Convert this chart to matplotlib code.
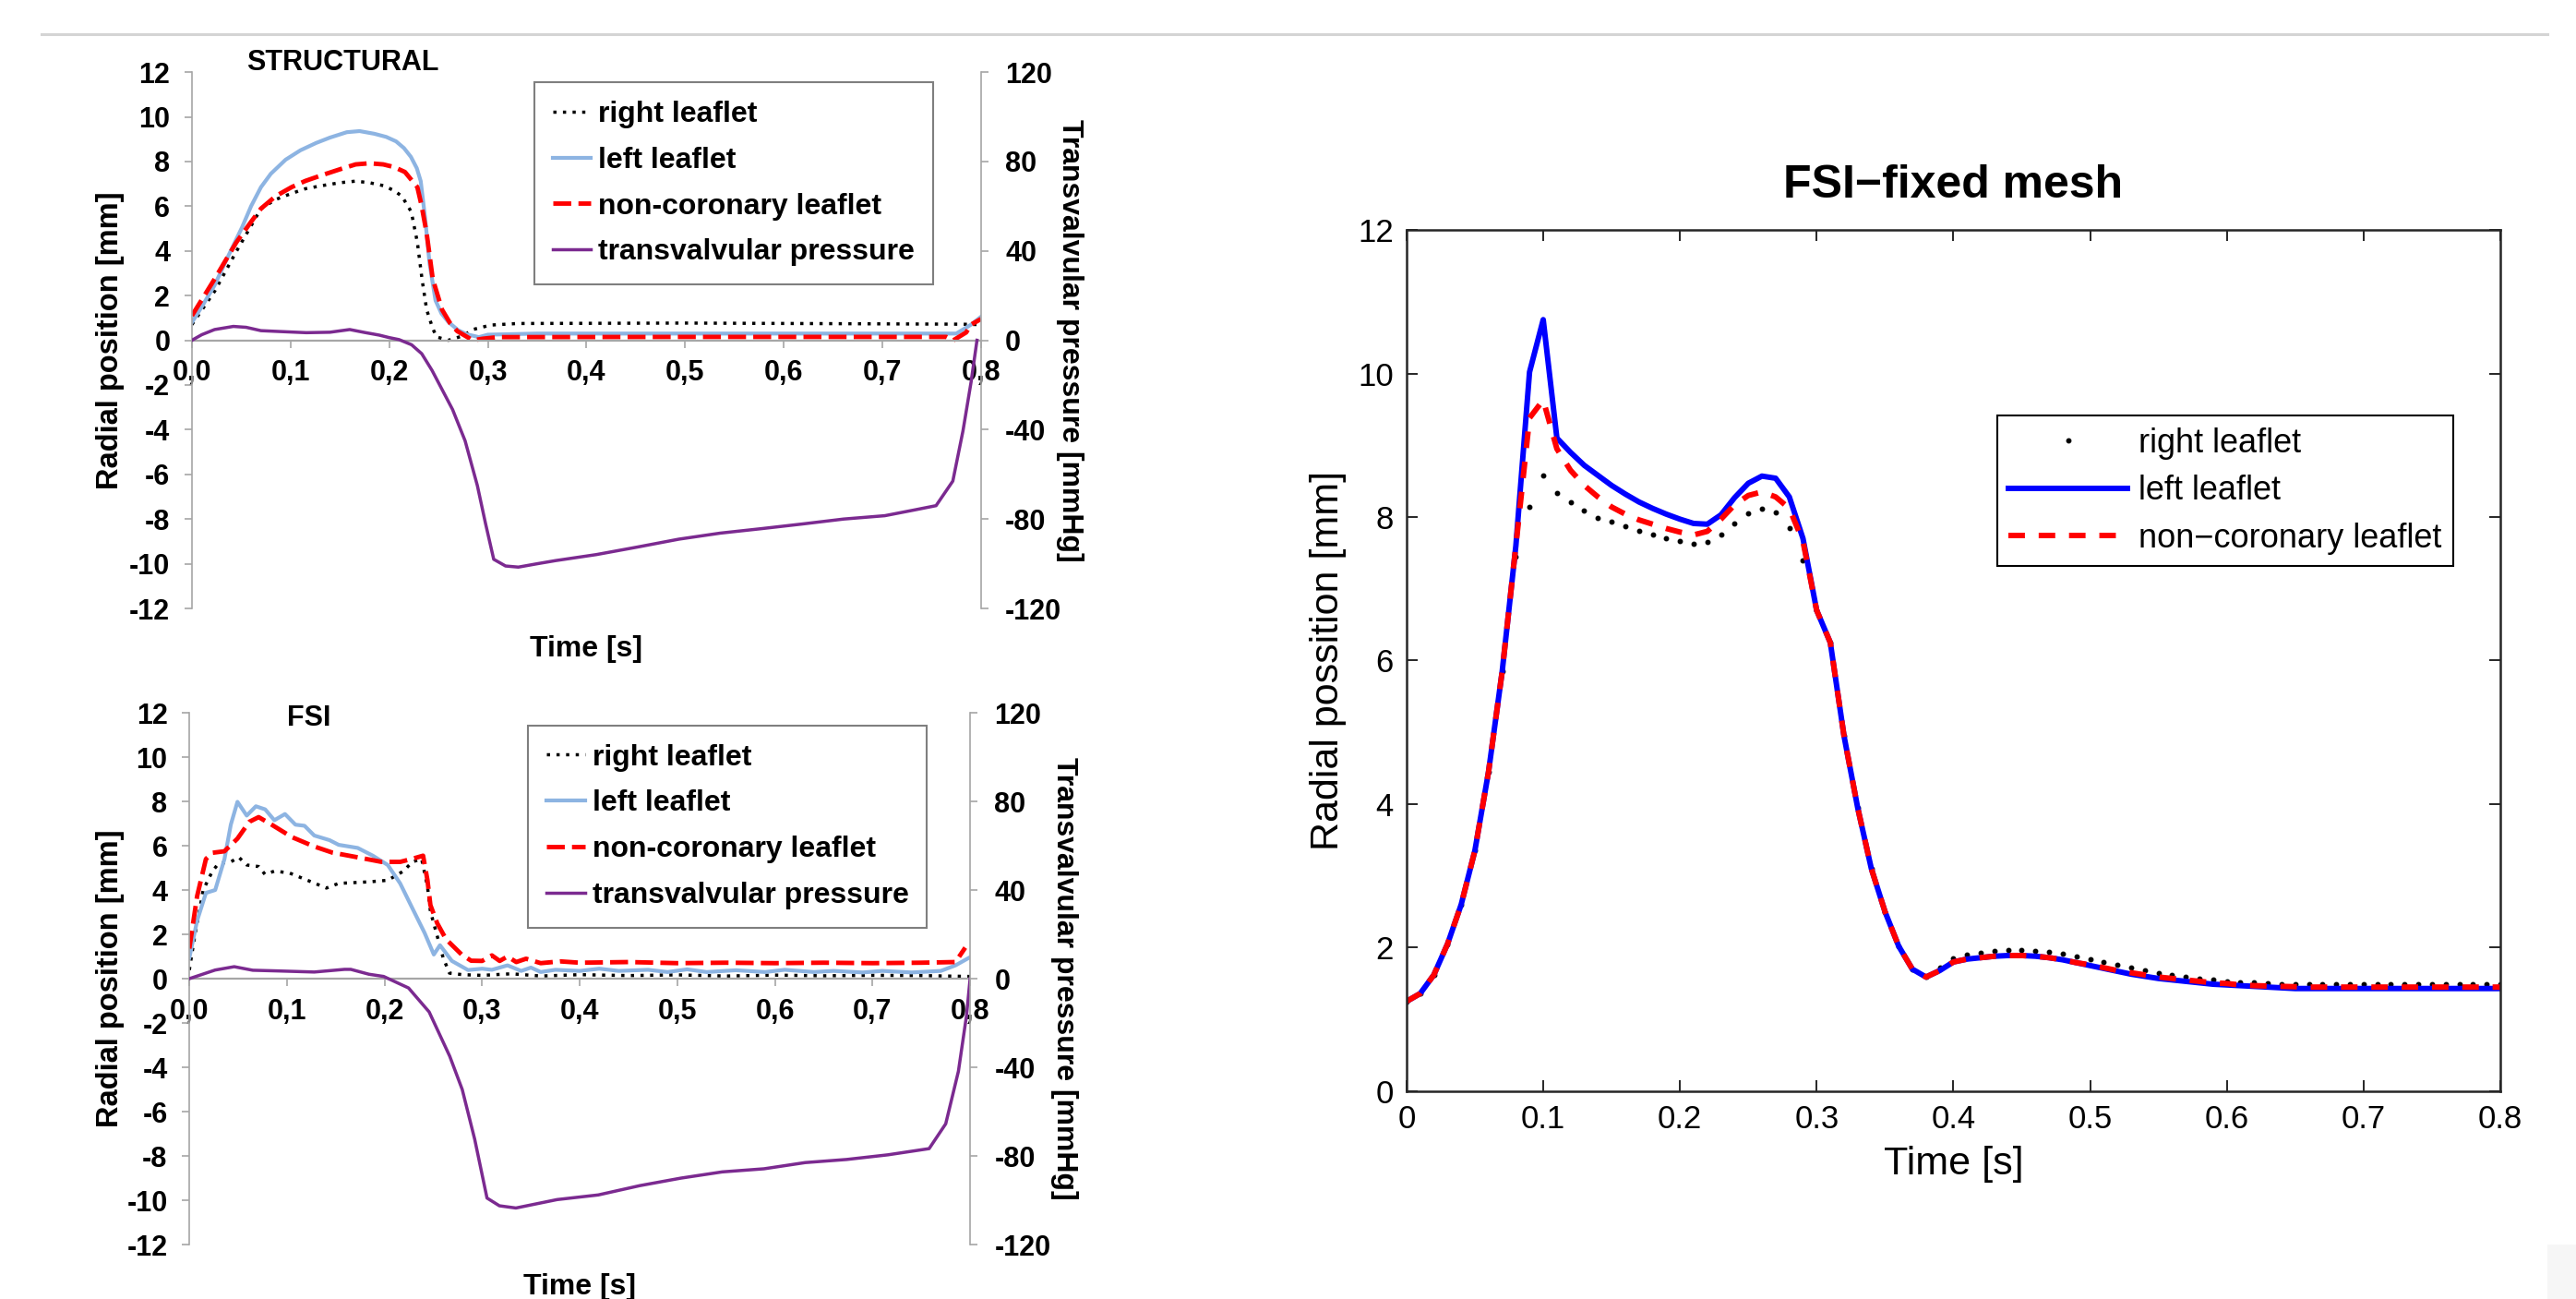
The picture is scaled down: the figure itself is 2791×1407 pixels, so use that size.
import matplotlib
matplotlib.use('Agg')
import matplotlib.pyplot as plt
from matplotlib.patches import Rectangle
from matplotlib.lines import Line2D

plt.rcParams['font.family'] = ['Liberation Sans', 'DejaVu Sans']
plt.rcParams['axes.unicode_minus'] = False

# ---------------- STRUCTURAL (top left) ----------------
s_right_t = [0, 0.023, 0.045, 0.07, 0.085, 0.101, 0.115, 0.132, 0.15, 0.166, 0.18, 0.194, 0.205, 0.213,
             0.2224, 0.2286, 0.2333, 0.238, 0.244, 0.248, 0.26, 0.275, 0.2847, 0.303, 0.33, 0.5, 0.78, 0.8]
s_right_y = [0.7, 2.19, 3.97, 5.89, 6.3, 6.57, 6.78, 6.92, 7.05, 7.12, 7.05, 6.92, 6.7, 6.44,
             5.75, 4.38, 2.74, 1.37, 0.55, 0.15, 0.0, 0.2, 0.48, 0.68, 0.75, 0.77, 0.72, 0.7]

s_left_t = [0, 0.01, 0.023, 0.035, 0.051, 0.06, 0.07, 0.08, 0.095, 0.11, 0.126, 0.14, 0.157, 0.17, 0.185,
            0.197, 0.207, 0.215, 0.222, 0.228, 0.232, 0.2364, 0.241, 0.247, 0.253, 0.26, 0.27, 0.2785,
            0.291, 0.3, 0.35, 0.45, 0.55, 0.65, 0.75, 0.775, 0.79, 0.8]
s_left_y = [0.8, 1.5, 2.46, 3.6, 5.07, 6.0, 6.85, 7.45, 8.08, 8.5, 8.83, 9.07, 9.31, 9.36, 9.24,
            9.1, 8.9, 8.6, 8.21, 7.7, 7.12, 5.48, 3.42, 1.78, 1.2, 0.82, 0.45, 0.27,
            0.14, 0.25, 0.3, 0.3, 0.3, 0.3, 0.3, 0.3, 0.7, 1.05]

s_nc_t = [0, 0.023, 0.045, 0.06, 0.07, 0.085, 0.101, 0.115, 0.132, 0.15, 0.166, 0.18, 0.194, 0.205, 0.216,
          0.2286, 0.233, 0.238, 0.2442, 0.2536, 0.262, 0.269, 0.2847, 0.295, 0.31, 0.5, 0.765, 0.772,
          0.785, 0.79, 0.8]
s_nc_y = [1.1, 2.74, 4.38, 5.3, 5.89, 6.45, 6.85, 7.13, 7.39, 7.65, 7.87, 7.92, 7.87, 7.75, 7.53,
          6.85, 6.0, 4.79, 2.74, 1.37, 0.75, 0.41, 0.0, 0.07, 0.14, 0.15, 0.15, 0.0,
          0.35, 0.7, 0.95]

s_p_t = [0, 0.01, 0.023, 0.042, 0.055, 0.07, 0.09, 0.116, 0.14, 0.16, 0.175, 0.19, 0.2, 0.21, 0.2227,
         0.233, 0.2435, 0.2643, 0.277, 0.2894, 0.2977, 0.306, 0.318, 0.331, 0.35, 0.3686, 0.41, 0.452,
         0.4937, 0.5356, 0.5773, 0.619, 0.6607, 0.7025, 0.7317, 0.7545, 0.7715, 0.7818, 0.79, 0.796]
s_p_v = [0, 2.5, 4.8, 6.2, 5.8, 4.3, 3.9, 3.4, 3.6, 4.8, 3.5, 2.3, 1.2, 0.3, -2,
         -6, -13.5, -31, -45, -65, -82, -98, -101, -101.5, -100, -98.6, -95.9, -92.5,
         -89, -86.3, -84.3, -82.2, -80, -78.5, -76, -74, -63, -40.5, -18.7, 0]

# ---------------- FSI (bottom left) ----------------
f_right_t = [0, 0.005, 0.0142, 0.0236, 0.03, 0.0425, 0.0507, 0.0588, 0.071, 0.0775, 0.087, 0.102, 0.121,
             0.1405, 0.153, 0.1843, 0.2033, 0.2193, 0.2285, 0.238, 0.244, 0.247, 0.254, 0.26, 0.2665,
             0.28, 0.3, 0.33, 0.36, 0.4, 0.45, 0.5, 0.55, 0.6, 0.65, 0.7, 0.75, 0.8]
f_right_y = [0.39, 1.78, 4.0, 4.85, 5.2, 5.27, 5.48, 5.13, 5.06, 4.71, 4.85, 4.78, 4.44,
             4.09, 4.3, 4.37, 4.44, 4.85, 5.27, 5.41, 4.16, 3.04, 1.92, 0.95, 0.25,
             0.18, 0.15, 0.22, 0.12, 0.18, 0.14, 0.17, 0.12, 0.16, 0.13, 0.15, 0.14, 0.1]

f_left_t = [0, 0.008, 0.017, 0.0265, 0.036, 0.0425, 0.0493, 0.0588, 0.0682, 0.0777, 0.0871, 0.098,
            0.1087, 0.118, 0.128, 0.1437, 0.153, 0.1725, 0.188, 0.2033, 0.216, 0.2285, 0.2411, 0.2505,
            0.2568, 0.269, 0.2855, 0.3, 0.31, 0.326, 0.34, 0.35, 0.36, 0.375, 0.4, 0.42, 0.44, 0.47,
            0.49, 0.51, 0.53, 0.56, 0.59, 0.61, 0.64, 0.66, 0.69, 0.71, 0.74, 0.77, 0.785, 0.8]
f_left_y = [0.94, 2.62, 3.87, 4.0, 5.4, 6.95, 7.98, 7.36, 7.78, 7.64, 7.15, 7.43,
            6.95, 6.9, 6.46, 6.25, 6.04, 5.9, 5.55, 5.13, 4.3, 3.18, 2.06, 1.09,
            1.51, 0.8, 0.39, 0.45, 0.4, 0.6, 0.35, 0.5, 0.3, 0.4, 0.35, 0.45, 0.35, 0.4,
            0.3, 0.42, 0.3, 0.38, 0.3, 0.4, 0.3, 0.35, 0.28, 0.35, 0.28, 0.35, 0.6, 0.97]

f_nc_t = [0, 0.008, 0.017, 0.0236, 0.036, 0.0493, 0.0615, 0.071, 0.0836, 0.105, 0.1276, 0.1465, 0.172,
          0.197, 0.216, 0.2285, 0.2395, 0.244, 0.247, 0.254, 0.263, 0.279, 0.2887, 0.3, 0.31, 0.318,
          0.326, 0.335, 0.345, 0.36, 0.38, 0.4, 0.45, 0.5, 0.55, 0.6, 0.65, 0.7, 0.75, 0.785, 0.795]
f_nc_y = [1.36, 3.73, 5.4, 5.68, 5.75, 6.32, 7.08, 7.29, 6.97, 6.39, 5.97, 5.69, 5.48,
          5.27, 5.27, 5.41, 5.55, 4.44, 3.32, 2.5, 1.78, 1.09, 0.81, 0.8, 1.05, 0.8,
          1.0, 0.75, 0.9, 0.7, 0.78, 0.72, 0.75, 0.7, 0.72, 0.7, 0.72, 0.7, 0.72, 0.75, 1.4]

f_p_t = [0, 0.0265, 0.046, 0.065, 0.09, 0.128, 0.159, 0.1654, 0.184, 0.1991, 0.2246, 0.2457, 0.2668,
         0.2796, 0.2924, 0.305, 0.3177, 0.3346, 0.3768, 0.419, 0.4616, 0.5038, 0.546, 0.5888, 0.631,
         0.6734, 0.7157, 0.758, 0.775, 0.788, 0.7963, 0.8]
f_p_v = [0, 3.9, 5.4, 3.8, 3.5, 3.0, 4.2, 4.2, 2.0, 1.0, -4.2, -15, -35,
         -50, -72.5, -99, -102.5, -103.5, -99.7, -97.6, -93.4, -90, -87.2, -85.8, -83,
         -81.6, -79.5, -76.7, -65.5, -41.8, -16.7, 0]

# ---------------- FSI fixed mesh (right) ----------------
fx_t = [0.00, 0.01, 0.02, 0.03, 0.04, 0.05, 0.06, 0.07, 0.08, 0.09,
        0.10, 0.11, 0.12, 0.13, 0.14, 0.15, 0.16, 0.17, 0.18, 0.19,
        0.20, 0.21, 0.22, 0.23, 0.24, 0.25, 0.26, 0.27, 0.28, 0.29,
        0.30, 0.31, 0.32, 0.33, 0.34, 0.35, 0.36, 0.37, 0.38, 0.39,
        0.40, 0.41, 0.42, 0.43, 0.44, 0.45, 0.46, 0.47, 0.48, 0.49,
        0.50, 0.51, 0.52, 0.53, 0.54, 0.55, 0.56, 0.57, 0.58, 0.59,
        0.60, 0.61, 0.62, 0.63, 0.64, 0.65, 0.66, 0.67, 0.68, 0.69,
        0.70, 0.71, 0.72, 0.73, 0.74, 0.75, 0.76, 0.77, 0.78, 0.79, 0.80]
fx_left = [1.25, 1.36, 1.62, 2.05, 2.60, 3.35, 4.45, 5.85, 7.60, 10.02,
           10.75, 9.10, 8.90, 8.72, 8.58, 8.44, 8.32, 8.21, 8.12, 8.04,
           7.97, 7.91, 7.90, 8.03, 8.27, 8.47, 8.57, 8.54, 8.28, 7.70,
           6.70, 6.25, 4.95, 3.95, 3.10, 2.50, 2.02, 1.70, 1.59, 1.68,
           1.80, 1.84, 1.86, 1.88, 1.89, 1.89, 1.88, 1.86, 1.83, 1.79,
           1.75, 1.71, 1.67, 1.63, 1.60, 1.57, 1.55, 1.53, 1.51, 1.49,
           1.48, 1.47, 1.46, 1.45, 1.44, 1.43, 1.43, 1.43, 1.43, 1.43,
           1.43, 1.43, 1.43, 1.43, 1.43, 1.43, 1.43, 1.43, 1.43, 1.43, 1.43]
fx_nc = [1.25, 1.36, 1.62, 2.05, 2.60, 3.35, 4.45, 5.85, 7.60, 9.38,
         9.63, 8.95, 8.65, 8.44, 8.28, 8.14, 8.04, 7.96, 7.90, 7.84,
         7.79, 7.75, 7.80, 7.97, 8.17, 8.30, 8.35, 8.28, 8.12, 7.66,
         6.70, 6.25, 4.95, 3.95, 3.10, 2.50, 2.02, 1.70, 1.59, 1.68,
         1.80, 1.84, 1.86, 1.88, 1.89, 1.89, 1.88, 1.86, 1.83, 1.79,
         1.76, 1.72, 1.68, 1.65, 1.62, 1.59, 1.57, 1.55, 1.53, 1.51,
         1.50, 1.48, 1.47, 1.465, 1.46, 1.455, 1.45, 1.45, 1.45, 1.45,
         1.45, 1.45, 1.45, 1.45, 1.45, 1.45, 1.45, 1.45, 1.45, 1.45, 1.45]
fx_right = [1.25, 1.36, 1.62, 2.05, 2.60, 3.35, 4.45, 5.85, 7.45, 8.14,
            8.58, 8.34, 8.21, 8.09, 7.99, 7.93, 7.87, 7.81, 7.76, 7.70,
            7.66, 7.63, 7.65, 7.76, 7.91, 8.05, 8.12, 8.06, 7.84, 7.39,
            6.70, 6.25, 4.95, 3.95, 3.10, 2.50, 2.02, 1.70, 1.60, 1.72,
            1.85, 1.90, 1.93, 1.96, 1.97, 1.97, 1.96, 1.94, 1.91, 1.88,
            1.84, 1.80, 1.76, 1.72, 1.68, 1.65, 1.62, 1.60, 1.57, 1.55,
            1.53, 1.52, 1.51, 1.50, 1.49, 1.49, 1.49, 1.49, 1.49, 1.49,
            1.49, 1.49, 1.49, 1.49, 1.49, 1.49, 1.49, 1.49, 1.49, 1.49, 1.49]

xt_comma = [0, 0.1, 0.2, 0.3, 0.4, 0.5, 0.6, 0.7, 0.8]
xt_comma_lbl = ['0,0', '0,1', '0,2', '0,3', '0,4', '0,5', '0,6', '0,7', '0,8']
yt_mm = [-12, -10, -8, -6, -4, -2, 0, 2, 4, 6, 8, 10, 12]
yt_mm_lbl = ['-12', '-10', '-8', '-6', '-4', '-2', '0', '2', '4', '6', '8', '10', '12']
yt_p = [-120, -80, -40, 0, 40, 80, 120]
yt_p_lbl = ['-120', '-80', '-40', '0', '40', '80', '120']

labels4 = ['right leaflet', 'left leaflet', 'non-coronary leaflet', 'transvalvular pressure']

GRAY = '#a6a6a6'
BLUE_L = '#8db4e2'
PURPLE = '#7b2a90'

fig = plt.figure(figsize=(27.91, 14.07), dpi=100)

# separator line at top and faint corner block
fig.add_artist(Line2D([0.016, 0.989], [0.974, 0.974], color='#d4d4d4', lw=2.2, transform=fig.transFigure))
fig.add_artist(Rectangle((0.989, 0.0), 0.011, 0.042, transform=fig.transFigure, color='#f6f6f6', lw=0))


def excel_panel(rect, title, tx, ty, data, pdata, leg_anchor, ylab_x, ylab2_x, xlab_y):
    ax = fig.add_axes(rect)
    ax.set_xlim(0, 0.8)
    ax.set_ylim(-12, 12)
    (tr, yr), (tl, yl), (tn, yn) = data
    h1, = ax.plot(tr, yr, color='black', lw=2.5, ls=(0, (1, 2.0)))
    h2, = ax.plot(tl, yl, color=BLUE_L, lw=3.0)
    h3, = ax.plot(tn, yn, color='#ff0000', lw=3.5, ls=(0, (4, 1.6)))
    for s in ['top', 'right']:
        ax.spines[s].set_visible(False)
    ax.spines['bottom'].set_position(('data', 0))
    ax.spines['bottom'].set_color(GRAY)
    ax.spines['left'].set_color(GRAY)
    ax.spines['bottom'].set_linewidth(1.6)
    ax.spines['left'].set_linewidth(1.2)
    ax.set_xticks(xt_comma)
    ax.set_xticklabels(xt_comma_lbl)
    ax.set_yticks(yt_mm)
    ax.set_yticklabels(yt_mm_lbl)
    ax.tick_params(axis='both', direction='out', length=6, width=1.2, color=GRAY,
                   labelsize=22)
    ax.tick_params(axis='x', pad=9)
    ax.tick_params(axis='y', pad=11)
    for lb in ax.get_xticklabels() + ax.get_yticklabels():
        lb.set_fontweight('bold')
    ax.set_ylabel('Radial position [mm]', fontsize=23.5, fontweight='bold')
    ax.yaxis.set_label_coords(ylab_x, 0.5)
    ax.text(0.5, xlab_y, 'Time [s]', transform=ax.transAxes, ha='center', va='center',
            fontsize=23, fontweight='bold')
    ax.text(tx, ty, title, transform=ax.transAxes, ha='left', va='center',
            fontsize=22, fontweight='bold')

    ax2 = ax.twinx()
    ax2.set_ylim(-120, 120)
    h4, = ax2.plot(pdata[0], pdata[1], color=PURPLE, lw=2.5)
    for s in ['top', 'left', 'bottom']:
        ax2.spines[s].set_visible(False)
    ax2.spines['right'].set_color(GRAY)
    ax2.spines['right'].set_linewidth(1.2)
    ax2.set_yticks(yt_p)
    ax2.set_yticklabels(yt_p_lbl)
    ax2.tick_params(axis='y', direction='out', length=6, width=1.2, color=GRAY,
                    labelsize=22, pad=13)
    for lb in ax2.get_yticklabels():
        lb.set_fontweight('bold')
    ax2.set_ylabel('Transvalvular pressure [mmHg]', fontsize=23, fontweight='bold',
                   rotation=270, va='center')
    ax2.yaxis.set_label_coords(ylab2_x, 0.5)

    leg = ax2.legend([h1, h2, h3, h4], labels4, loc='upper left', bbox_to_anchor=leg_anchor,
                     borderaxespad=0, fancybox=False, framealpha=1, edgecolor='#7f7f7f',
                     prop={'weight': 'bold', 'size': 23}, handlelength=1.3, handletextpad=0.25,
                     labelspacing=0.62, borderpad=0.62)
    leg.get_frame().set_linewidth(1.5)
    return ax


excel_panel([0.0745, 0.5316, 0.3063, 0.4129], 'STRUCTURAL', 0.069, 1.017,
            [(s_right_t, s_right_y), (s_left_t, s_left_y), (s_nc_t, s_nc_y)], (s_p_t, s_p_v),
            (0.434, 0.981), -0.085, 1.113, -0.076)
excel_panel([0.0735, 0.0419, 0.3031, 0.4094], 'FSI', 0.125, 0.99,
            [(f_right_t, f_right_y), (f_left_t, f_left_y), (f_nc_t, f_nc_y)], (f_p_t, f_p_v),
            (0.434, 0.976), -0.083, 1.12, -0.08)

# ---------------- right panel ----------------
ax3 = fig.add_axes([0.546, 0.16, 0.4246, 0.663])
r1, = ax3.plot(fx_t, fx_right, ls='none', marker='o', ms=3.2, color='black')
r2, = ax3.plot(fx_t, fx_left, color='#0000ff', lw=4.3)
r3, = ax3.plot(fx_t, fx_nc, color='#ff0000', lw=4.3, ls=(0, (3, 2.5)))
ax3.set_xlim(0, 0.8)
ax3.set_ylim(0, 12)
ax3.set_xticks([0, 0.1, 0.2, 0.3, 0.4, 0.5, 0.6, 0.7, 0.8])
ax3.set_xticklabels(['0', '0.1', '0.2', '0.3', '0.4', '0.5', '0.6', '0.7', '0.8'])
ax3.set_yticks([0, 2, 4, 6, 8, 10, 12])
ax3.tick_params(axis='both', direction='in', length=8.5, width=1.4, top=True, right=True,
                labelsize=25, pad=10, color='#262626')
for s in ax3.spines.values():
    s.set_linewidth(1.8)
    s.set_color('#262626')
ax3.set_title('FSI\u2212fixed mesh', fontsize=36, fontweight='bold', pad=25)
ax3.set_xlabel('Time [s]', fontsize=31, labelpad=9)
ax3.set_ylabel('Radial possition [mm]', fontsize=31, labelpad=9)
leg3 = ax3.legend([r1, r2, r3], ['right leaflet', 'left leaflet', 'non\u2212coronary leaflet'],
                  loc='upper left', bbox_to_anchor=(0.540, 0.7846), borderaxespad=0,
                  fancybox=False, framealpha=1, edgecolor='black', fontsize=26,
                  handlelength=3.55, handletextpad=0.33, labelspacing=0.46, borderpad=0.35,
                  numpoints=1)
leg3.get_frame().set_linewidth(1.5)

fig.savefig('out.png', dpi=100)
